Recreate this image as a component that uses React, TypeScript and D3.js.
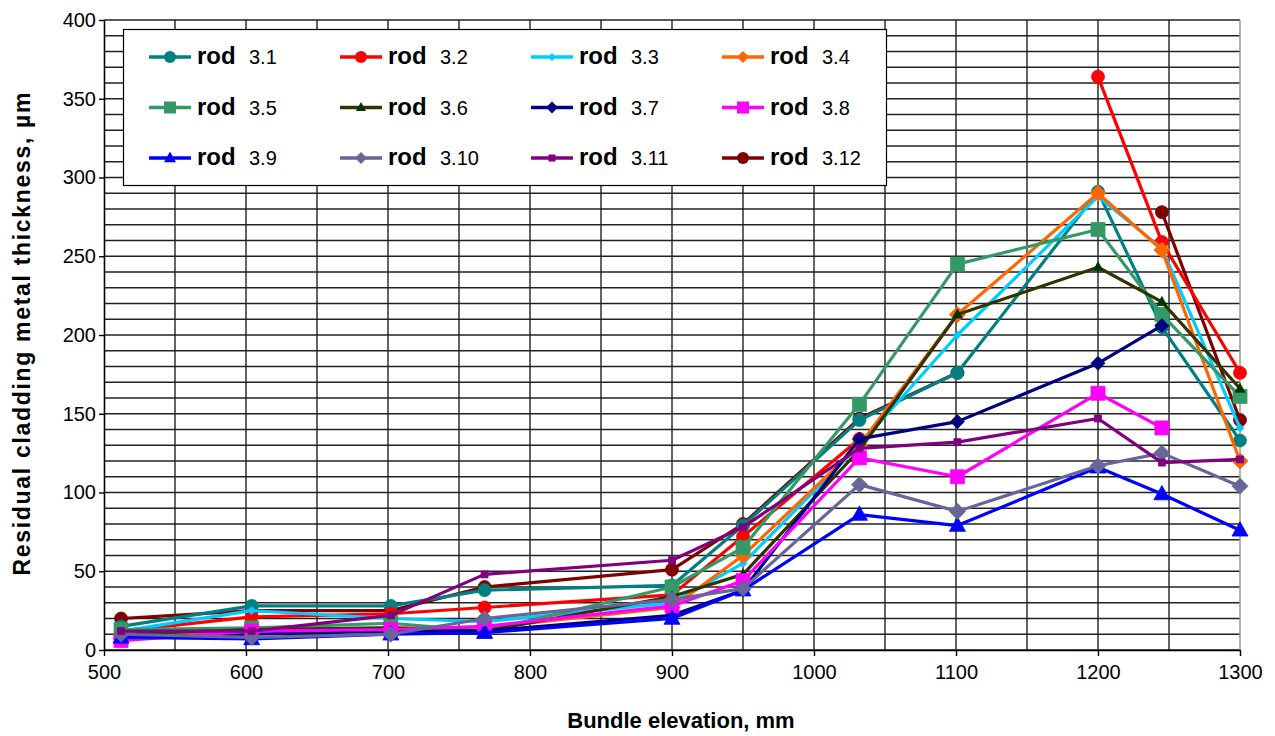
import React, { useEffect, useRef } from "react";
import * as d3 from "d3";

// bundle elevations of the measured cross sections, mm
const elevation = [512, 604, 702, 768, 900, 950, 1032, 1101, 1200, 1245, 1300];

// residual cladding metal thickness, µm (null = no measurement)
const rod31 = [15, 28, 28, 38, 41, 79, 146, 176, 291, 205, 133];
const rod32 = [12, 21, 23, 27, 35, 72, 134, null, 364, 259, 176];
const rod33 = [12, 25, 20, 18, 30, 55, 130, 200, 288, 255, 141];
const rod34 = [7, 13, 14, 14, 27, 60, 130, 213, 290, 254, 120];
const rod35 = [13, 14, 17, 12, 40, 65, 156, 245, 267, 213, 161];
const rod36 = [10, 13, 14, 12, 34, 48, 127, 213, 243, 221, 166];
const rod37 = [8, 10, 12, 12, 22, 38, 134, 145, 182, 206, null];
const rod38 = [6, 12, 13, 15, 28, 44, 122, 110, 163, 141, null];
const rod39 = [8, 7, 10, 11, 20, 38, 86, 79, 116, 99, 76];
const rod310 = [10, 8, 10, 20, 32, 39, 105, 88, 117, 125, 104];
const rod311 = [12, 12, 22, 48, 57, 78, 128, 132, 147, 119, 121];
const rod312 = [20, 25, 25, 40, 51, 80, 147, 176, null, 278, 146];

const rodLabels = ["3.1", "3.2", "3.3", "3.4", "3.5", "3.6", "3.7", "3.8", "3.9", "3.10", "3.11", "3.12"];
const rodValues = [rod31, rod32, rod33, rod34, rod35, rod36, rod37, rod38, rod39, rod310, rod311, rod312];

const yTicks = [0, 50, 100, 150, 200, 250, 300, 350, 400];
const xTicks = [500, 600, 700, 800, 900, 1000, 1100, 1200, 1300];

// line colour, marker colour, marker shape, marker size
const styles = [
  { color: "#008080", fill: "#008080", shape: "circle", size: 13 },
  { color: "#ff0000", fill: "#ff0000", shape: "circle", size: 13 },
  { color: "#00ccff", fill: "#00ccff", shape: "diamond", size: 8 },
  { color: "#ff6600", fill: "#ff6600", shape: "diamond", size: 16 },
  { color: "#339966", fill: "#339966", shape: "square", size: 14 },
  { color: "#333300", fill: "#003300", shape: "triangle", size: 10 },
  { color: "#000080", fill: "#000080", shape: "diamond", size: 14 },
  { color: "#ff00ff", fill: "#ff00ff", shape: "square", size: 14 },
  { color: "#0000ff", fill: "#0000ff", shape: "triangle", size: 16 },
  { color: "#666699", fill: "#666699", shape: "diamond", size: 16 },
  { color: "#800080", fill: "#800080", shape: "square", size: 7 },
  { color: "#800000", fill: "#800000", shape: "circle", size: 13 },
];

// rod 3.12 sits underneath the others in the original
const drawOrder = [11, 0, 1, 2, 3, 4, 5, 6, 7, 8, 9, 10];

const FONT = "Arial, 'Liberation Sans', sans-serif";

const markerPath = (shape, s) => {
  const r = s / 2;
  if (shape === "circle") return d3.symbol(d3.symbolCircle, Math.PI * r * r)();
  if (shape === "square") return `M${-r},${-r}H${r}V${r}H${-r}Z`;
  if (shape === "diamond") return `M0,${-r}L${r},0L0,${r}L${-r},0Z`;
  // triangle
  const th = s * 0.9;
  return `M0,${-th * 0.6}L${r},${th * 0.4}L${-r},${th * 0.4}Z`;
};

const App = () => {
  const chartRef = useRef(null);

  useEffect(() => {
    drawChart();
  }, []);

  const drawChart = () => {
    const width = 1275;
    const height = 736;
    const margin = { top: 20, right: 35, bottom: 86, left: 104 };
    const w = width - margin.left - margin.right;
    const h = height - margin.top - margin.bottom;

    const svg = d3.select(chartRef.current);
    svg.selectAll("*").remove();
    svg.attr("width", width).attr("height", height);

    svg.append("rect").attr("width", width).attr("height", height).attr("fill", "#fff");

    const g = svg.append("g").attr("transform", `translate(${margin.left},${margin.top})`);

    const x = d3.scaleLinear().domain([500, 1300]).range([0, w]);
    const y = d3.scaleLinear().domain([0, 400]).range([h, 0]);

    // horizontal grid every 10, vertical grid every 50
    g.append("g")
      .selectAll("line")
      .data(y.ticks(40))
      .join("line")
      .attr("x1", 0)
      .attr("x2", w)
      .attr("y1", (d) => y(d))
      .attr("y2", (d) => y(d))
      .attr("stroke", "#222")
      .attr("stroke-width", 1.4);

    g.append("g")
      .selectAll("line")
      .data(x.ticks(16).filter((d) => d > 500 && d < 1300))
      .join("line")
      .attr("x1", (d) => x(d))
      .attr("x2", (d) => x(d))
      .attr("y1", 0)
      .attr("y2", h)
      .attr("stroke", "#222")
      .attr("stroke-width", 1.4);

    g.append("line")
      .attr("x1", w)
      .attr("x2", w)
      .attr("y1", 0)
      .attr("y2", h)
      .attr("stroke", "#999")
      .attr("stroke-width", 1.5);

    // axes
    const yAxis = g
      .append("g")
      .call(d3.axisLeft(y).tickValues(yTicks).tickSize(5).tickPadding(3).tickSizeOuter(0).tickFormat(d3.format("d")));
    const xAxis = g
      .append("g")
      .attr("transform", `translate(0,${h})`)
      .call(d3.axisBottom(x).tickValues(xTicks).tickSize(6).tickSizeOuter(0).tickFormat(d3.format("d")));

    [yAxis, xAxis].forEach((a) => {
      a.select(".domain").attr("stroke", "#000").attr("stroke-width", 1.6);
      a.selectAll(".tick line").attr("stroke", "#000").attr("stroke-width", 1.4);
      a.selectAll("text").attr("font-family", FONT).attr("font-size", 20).attr("fill", "#000");
    });
    xAxis.selectAll("text").attr("y", 29).attr("dy", 0);

    // series
    const line = d3
      .line()
      .defined((d) => d != null)
      .x((d, i) => x(elevation[i]))
      .y((d) => y(d));

    drawOrder.forEach((k) => {
      const st = styles[k];
      const vals = rodValues[k];
      const sg = g.append("g");
      sg.append("path")
        .datum(vals)
        .attr("fill", "none")
        .attr("stroke", st.color)
        .attr("stroke-width", 3.2)
        .attr("stroke-linejoin", "round")
        .attr("d", line);
      sg.selectAll("path.m")
        .data(vals.map((v, i) => ({ v, e: elevation[i] })).filter((d) => d.v != null))
        .join("path")
        .attr("class", "m")
        .attr("transform", (d) => `translate(${x(d.e)},${y(d.v)})`)
        .attr("d", markerPath(st.shape, st.size))
        .attr("fill", st.fill)
        .attr("stroke", st.fill)
        .attr("stroke-width", 0.8);
    });

    // legend
    const lg = svg.append("g");
    lg.append("rect")
      .attr("x", 123.5)
      .attr("y", 29.5)
      .attr("width", 763)
      .attr("height", 156)
      .attr("fill", "#fff")
      .attr("stroke", "#000")
      .attr("stroke-width", 1.2);

    rodLabels.forEach((lab, k) => {
      const col = k % 4;
      const row = Math.floor(k / 4);
      const lx = 149 + col * 191;
      const cy = 57 + row * 50.5;
      const st = styles[k];
      const item = lg.append("g").attr("transform", `translate(${lx},${cy})`);
      item.append("line").attr("x1", 0).attr("x2", 42).attr("stroke", st.color).attr("stroke-width", 3.5);
      item.append("path")
        .attr("transform", "translate(21,0)")
        .attr("d", markerPath(st.shape, Math.min(st.size, 12)))
        .attr("fill", st.fill);
      item.append("text")
        .attr("x", 48)
        .attr("y", 7)
        .attr("font-family", FONT)
        .attr("font-weight", "bold")
        .attr("font-size", 24)
        .text("rod");
      item.append("text")
        .attr("x", 100)
        .attr("y", 7)
        .attr("font-family", FONT)
        .attr("font-size", 20)
        .text(lab);
    });

    // axis titles
    svg.append("text")
      .attr("x", 681)
      .attr("y", 728)
      .attr("text-anchor", "middle")
      .attr("font-family", FONT)
      .attr("font-weight", "bold")
      .attr("font-size", 22)
      .text("Bundle elevation, mm");

    svg.append("text")
      .attr("transform", "translate(30,334) rotate(-90)")
      .attr("text-anchor", "middle")
      .attr("font-family", FONT)
      .attr("font-weight", "bold")
      .attr("font-size", 23)
      .attr("textLength", 483)
      .attr("lengthAdjust", "spacing")
      .text("Residual cladding metal thickness, µm");
  };

  return <svg ref={chartRef} style={{ position: "absolute", left: 0, top: 0 }}></svg>;
};

export default App;
